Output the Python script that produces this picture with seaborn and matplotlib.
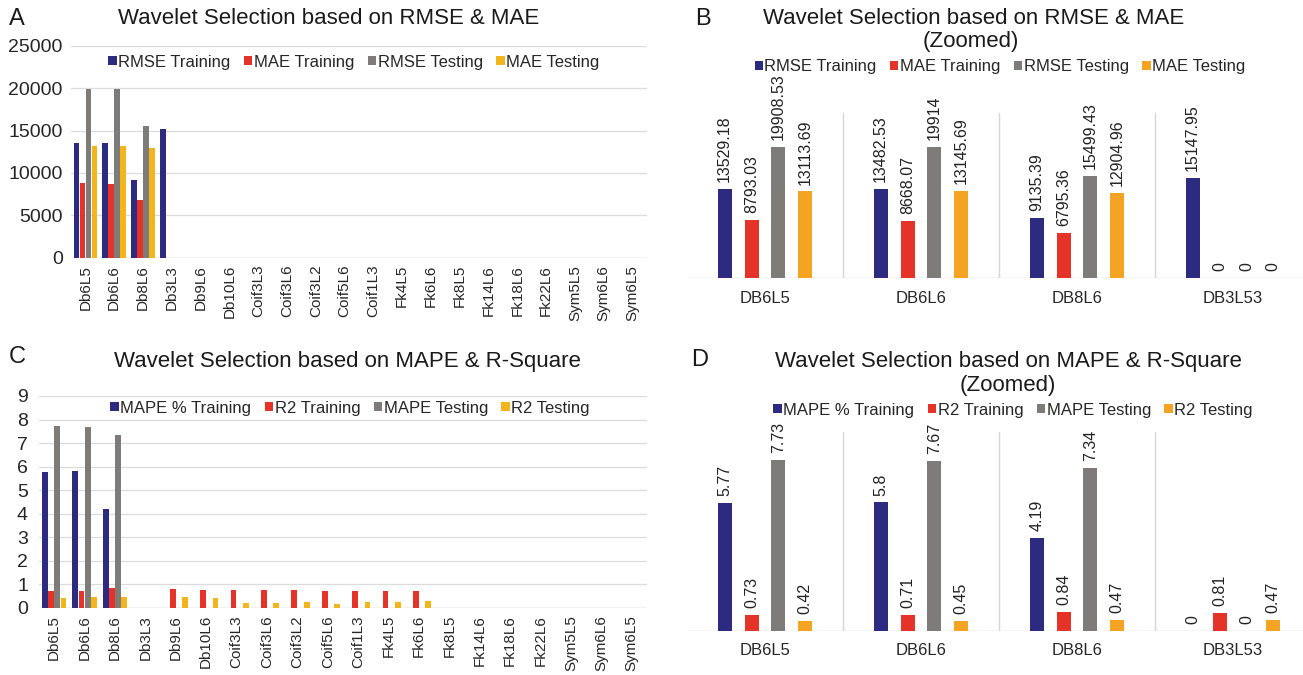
import numpy as np
import pandas as pd
import seaborn as sns
import matplotlib

matplotlib.use("Agg")
import matplotlib.pyplot as plt

# ---- data -------------------------------------------------------------
wavelets = ["Db6L5", "Db6L6", "Db8L6", "Db3L3", "Db9L6", "Db10L6", "Coif3L3",
            "Coif3L6", "Coif3L2", "Coif5L6", "Coif1L3", "Fk4L5", "Fk6L6", "Fk8L5",
            "Fk14L6", "Fk18L6", "Fk22L6", "Sym5L5", "Sym6L6", "Sym6L5"]

rmse_train = [13529.18, 13482.53, 9135.39, 15147.95] + [0] * 16
mae_train = [8793.03, 8668.07, 6795.36, 0] + [0] * 16
rmse_test = [19908.53, 19914, 15499.43, 0] + [0] * 16
mae_test = [13113.69, 13145.69, 12904.96, 0] + [0] * 16

mape_train = [5.77, 5.8, 4.19, 0] + [0] * 16
r2_train = [0.73, 0.71, 0.84, 0, 0.82, 0.77, 0.77, 0.77, 0.77, 0.74, 0.74,
            0.72, 0.74] + [0] * 7
mape_test = [7.73, 7.67, 7.34, 0] + [0] * 16
r2_test = [0.42, 0.45, 0.47, 0, 0.47, 0.44, 0.23, 0.23, 0.27, 0.18, 0.27,
           0.26, 0.30] + [0] * 7

zoom_cats = ["DB6L5", "DB6L6", "DB8L6", "DB3L53"]
z_rmse_train = [13529.18, 13482.53, 9135.39, 15147.95]
z_mae_train = [8793.03, 8668.07, 6795.36, 0]
z_rmse_test = [19908.53, 19914, 15499.43, 0]
z_mae_test = [13113.69, 13145.69, 12904.96, 0]

z_mape_train = [5.77, 5.8, 4.19, 0]
z_r2_train = [0.73, 0.71, 0.84, 0.81]
z_mape_test = [7.73, 7.67, 7.34, 0]
z_r2_test = [0.42, 0.45, 0.47, 0.47]

err_names = ["RMSE Training", "MAE Training", "RMSE Testing", "MAE Testing"]
fit_names = ["MAPE % Training", "R2 Training", "MAPE Testing", "R2 Testing"]

BLUE, RED, GREY = "#2D2B80", "#E5332A", "#7E7B78"
W, H = 1303, 675


def long_df(cats, series, names):
    rows = []
    for name, vals in zip(names, series):
        for c, v in zip(cats, vals):
            rows.append({"cat": c, "series": name, "value": v})
    return pd.DataFrame(rows)


def fmt(v):
    return "{:.2f}".format(v).rstrip("0").rstrip(".")


def axes_px(fig, left, right, top, bottom):
    return fig.add_axes([left / W, 1 - bottom / H, (right - left) / W, (bottom - top) / H])


def draw(ax, df, names, colors, width, gap):
    sns.barplot(data=df, x="cat", y="value", hue="series", hue_order=names,
                palette=colors, saturation=1, width=width, gap=gap,
                errorbar=None, linewidth=0, ax=ax)
    sns.despine(ax=ax, left=True, bottom=True)
    ax.set_xlabel("")
    ax.set_ylabel("")
    ax.axhline(0, color="#D6D6D6", lw=1.0, zorder=0.5)
    ax.tick_params(length=0)


def add_legend(fig, ax, x, y):
    handles, labels = ax.get_legend_handles_labels()
    ax.get_legend().remove()
    ax.legend(handles, labels, loc="center", bbox_to_anchor=(x / W, 1 - y / H),
              bbox_transform=fig.transFigure, ncol=4, frameon=False,
              fontsize=12, handlelength=0.5, handleheight=0.5,
              handletextpad=0.1, columnspacing=0.8, borderpad=0)


sns.set_style("white")
plt.rcParams["font.family"] = ["Liberation Sans", "DejaVu Sans"]

fig = plt.figure(figsize=(W / 100, H / 100), dpi=100)

# ---- A: full overview, errors ----------------------------------------
ax_a = axes_px(fig, 71, 647, 45.7, 257.7)
df_a = long_df(wavelets, [rmse_train, mae_train, rmse_test, mae_test], err_names)
draw(ax_a, df_a, err_names, [BLUE, RED, GREY, "#F2B51E"], 0.83, 0.08)
ax_a.set_ylim(0, 25000)
ax_a.set_yticks(np.arange(0, 25001, 5000))
ax_a.yaxis.grid(True, color="#DCDCDC", lw=0.9)
ax_a.set_axisbelow(True)
ax_a.tick_params(axis="y", labelsize=14, pad=6)
ax_a.tick_params(axis="x", labelsize=11, rotation=90, pad=5)
add_legend(fig, ax_a, 354, 62)

# ---- B: zoomed errors -------------------------------------------------
ax_b = axes_px(fig, 687, 1311, 113, 278)
df_b = long_df(zoom_cats, [z_rmse_train, z_mae_train, z_rmse_test, z_mae_test], err_names)
draw(ax_b, df_b, err_names, [BLUE, RED, GREY, "#F4A422"], 0.69, 0.48)
ax_b.set_ylim(0, 25000)
ax_b.set_yticks([])
ax_b.tick_params(axis="x", labelsize=12, pad=9)
for xs in [0.5, 1.5, 2.5]:
    ax_b.axvline(xs, color="#D6D6D6", lw=1.0, zorder=0.5)
for cont in ax_b.containers:
    ax_b.bar_label(cont, labels=[fmt(b.get_height()) for b in cont], rotation=90,
                   padding=5, fontsize=11.5, color="#222222", clip_on=False)
add_legend(fig, ax_b, 1000, 67)

# ---- C: full overview, MAPE & R2 -------------------------------------
ax_c = axes_px(fig, 39, 647, 396, 608)
df_c = long_df(wavelets, [mape_train, r2_train, mape_test, r2_test], fit_names)
draw(ax_c, df_c, fit_names, [BLUE, RED, GREY, "#F2B51E"], 0.82, 0.08)
ax_c.set_ylim(0, 9)
ax_c.set_yticks(np.arange(0, 10, 1))
ax_c.yaxis.grid(True, color="#DCDCDC", lw=0.9)
ax_c.set_axisbelow(True)
ax_c.tick_params(axis="y", labelsize=14, pad=8)
ax_c.tick_params(axis="x", labelsize=11, rotation=90, pad=5)
add_legend(fig, ax_c, 350, 408)

# ---- D: zoomed MAPE & R2 ---------------------------------------------
ax_d = axes_px(fig, 687, 1311, 431.7, 630.7)
df_d = long_df(zoom_cats, [z_mape_train, z_r2_train, z_mape_test, z_r2_test], fit_names)
draw(ax_d, df_d, fit_names, [BLUE, RED, GREY, "#F4A422"], 0.69, 0.48)
ax_d.set_ylim(0, 9)
ax_d.set_yticks([])
ax_d.tick_params(axis="x", labelsize=12, pad=9)
for xs in [0.5, 1.5, 2.5]:
    ax_d.axvline(xs, color="#D6D6D6", lw=1.0, zorder=0.5)
for cont in ax_d.containers:
    ax_d.bar_label(cont, labels=[fmt(b.get_height()) for b in cont], rotation=90,
                   padding=5, fontsize=11.5, color="#222222", clip_on=False)
add_legend(fig, ax_d, 1013, 410)

# ---- titles and panel letters ----------------------------------------
title_kw = dict(fontsize=16, ha="center", va="center", color="#1A1A1A")
fig.text(329 / W, 1 - 18 / H, "Wavelet Selection based on RMSE & MAE", **title_kw)
fig.text(974 / W, 1 - 18 / H, "Wavelet Selection based on RMSE & MAE", **title_kw)
fig.text(971 / W, 1 - 42 / H, "(Zoomed)", **title_kw)
fig.text(347 / W, 1 - 361 / H, "Wavelet Selection based on MAPE & R-Square", **title_kw)
fig.text(1008 / W, 1 - 361 / H, "Wavelet Selection based on MAPE & R-Square", **title_kw)
fig.text(1008 / W, 1 - 386 / H, "(Zoomed)", **title_kw)

letter_kw = dict(fontsize=17, ha="left", va="center", color="#1A1A1A")
fig.text(9 / W, 1 - 19 / H, "A", **letter_kw)
fig.text(695 / W, 1 - 19 / H, "B", **letter_kw)
fig.text(9 / W, 1 - 357 / H, "C", **letter_kw)
fig.text(691 / W, 1 - 360 / H, "D", **letter_kw)

fig.savefig("out.png", dpi=100)
plt.close()
